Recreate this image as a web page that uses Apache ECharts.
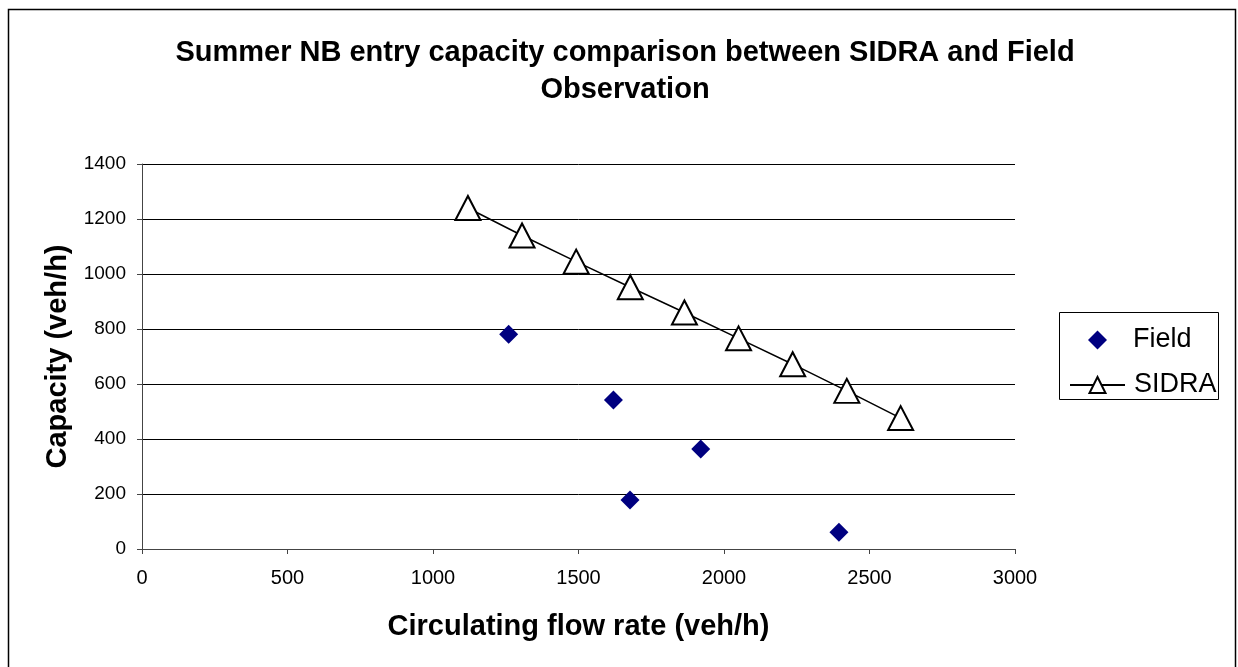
<!DOCTYPE html>
<html>
<head>
<meta charset="utf-8">
<script src="https://cdn.jsdelivr.net/npm/echarts@6/dist/echarts.min.js"></script>
<style>
  html, body { margin: 0; padding: 0; background: #fff; }
  #chart { width: 1238px; height: 667px; }
</style>
</head>
<body>
<div id="chart"></div>
<script>
// field observations
var fieldFlow = [1260, 1620, 1677, 1920, 2395];
var fieldCap = [781, 542, 178, 364, 61];

// SIDRA estimates
var sidraFlow = [1120, 1306, 1492, 1678, 1864, 2050, 2236, 2422, 2607];
var sidraCap = [1240, 1140, 1045, 952, 860, 766, 672, 575, 476];

var xTicks = [0, 500, 1000, 1500, 2000, 2500, 3000];
var yTicks = [0, 200, 400, 600, 800, 1000, 1200, 1400];

function toPairs(xs, ys) {
  var out = [];
  for (var i = 0; i < xs.length; i++) {
    out.push([xs[i], ys[i]]);
  }
  return out;
}

// no thousands separator on the ticks
function plainNum(val) {
  return String(val);
}

var font = 'Liberation Sans, Arial, sans-serif';
var legendText = {
  fontFamily: font,
  fontSize: 27,
  lineHeight: 30,
  color: '#000'
};

var myChart = echarts.init(document.getElementById('chart'));

var option = {
  backgroundColor: '#fff',
  animation: false,
  title: {
    text: 'Summer NB entry capacity comparison between SIDRA and Field\nObservation',
    left: 620,
    top: 29,
    textAlign: 'center',
    textStyle: {
      fontFamily: font,
      fontWeight: 'bold',
      fontSize: 29,
      lineHeight: 37,
      color: '#000'
    }
  },
  // two legends so the diamond keeps its shape
  legend: [
    {
      left: 1088,
      top: 325,
      padding: 0,
      itemWidth: 19,
      itemHeight: 19,
      textStyle: echarts.util.extend({ padding: [0, 0, 0, 21] }, legendText),
      data: ['Field']
    },
    {
      left: 1069,
      top: 370,
      padding: 0,
      itemWidth: 55,
      itemHeight: 20,
      textStyle: echarts.util.extend({ padding: [0, 0, 0, 4] }, legendText),
      data: ['SIDRA']
    }
  ],
  grid: {
    left: 142,
    right: 223,
    top: 164,
    bottom: 118
  },
  xAxis: {
    type: 'value',
    min: xTicks[0],
    max: xTicks[xTicks.length - 1],
    interval: 500,
    name: 'Circulating flow rate (veh/h)',
    nameLocation: 'middle',
    nameGap: 63,
    nameTextStyle: { fontFamily: font, fontWeight: 'bold', fontSize: 29, color: '#000' },
    axisLine: { show: true, lineStyle: { color: '#444', width: 1 } },
    axisTick: { show: true, length: 5, lineStyle: { color: '#444' } },
    axisLabel: { fontFamily: font, fontSize: 20, color: '#000', margin: 19, formatter: plainNum },
    splitLine: { show: false }
  },
  yAxis: {
    type: 'value',
    min: yTicks[0],
    max: yTicks[yTicks.length - 1],
    interval: 200,
    name: 'Capacity (veh/h)',
    nameLocation: 'middle',
    nameGap: 70,
    nameTextStyle: { fontFamily: font, fontWeight: 'bold', fontSize: 29, color: '#000' },
    axisLine: { show: true, lineStyle: { color: '#444', width: 1 } },
    axisTick: { show: true, length: 5, lineStyle: { color: '#444' } },
    axisLabel: { fontFamily: font, fontSize: 19, color: '#000', margin: 16, formatter: plainNum },
    splitLine: { show: true, lineStyle: { color: '#000', width: 1 } }
  },
  series: [
    {
      name: 'Field',
      type: 'scatter',
      symbol: 'diamond',
      symbolSize: 19,
      itemStyle: { color: '#000080', opacity: 1 },
      data: toPairs(fieldFlow, fieldCap)
    },
    {
      name: 'SIDRA',
      type: 'line',
      symbol: 'triangle',
      symbolSize: [25, 24],
      showAllSymbol: true,
      lineStyle: { color: '#000', width: 1.5 },
      itemStyle: { color: '#fff', borderColor: '#000', borderWidth: 2 },
      data: toPairs(sidraFlow, sidraCap)
    }
  ],
  graphic: [
    {
      // outer chart border
      type: 'rect',
      shape: { x: 8.5, y: 9.5, width: 1227, height: 700 },
      style: { fill: 'none', stroke: '#000', lineWidth: 1.5 },
      silent: true
    },
    {
      // legend box
      type: 'rect',
      shape: { x: 1059.5, y: 312.5, width: 159, height: 87 },
      style: { fill: 'none', stroke: '#000', lineWidth: 1 },
      silent: true
    }
  ]
};

myChart.setOption(option);
</script>
</body>
</html>
